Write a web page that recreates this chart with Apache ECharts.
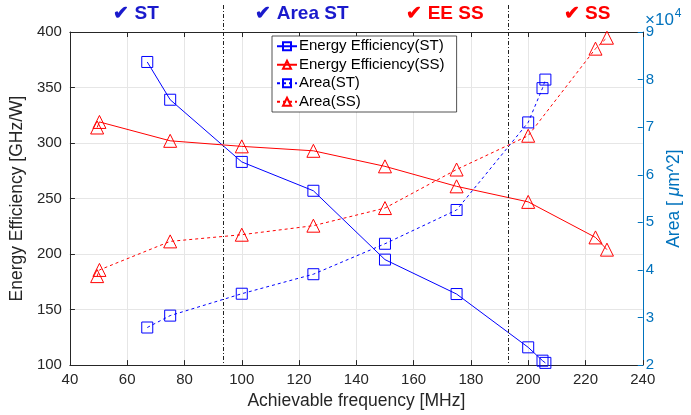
<!DOCTYPE html>
<html>
<head>
<meta charset="utf-8">
<script src="https://cdn.jsdelivr.net/npm/echarts@6/dist/echarts.min.js"></script>
<style>html,body{margin:0;padding:0;background:#fff;}#c{width:691px;height:415px;}</style>
</head>
<body>
<div id="c"></div>
<script>
// ---- data ----
var freqST = [67, 75, 100, 125, 150, 175, 200, 205, 206];
var eeST   = [373, 339, 283, 257, 195, 164, 116, 104, 102];
var areaST = [2.79, 3.04, 3.50, 3.91, 4.55, 5.26, 7.10, 7.82, 8.00]; // x10^4 um^2
var freqSS = [49.5, 50.3, 75, 100, 125, 150, 175, 200, 223.5, 227.5];
var eeSS   = [314, 319, 302, 297, 293, 279, 261, 247, 215, 204];
var areaSS = [3.87, 4.00, 4.60, 4.74, 4.93, 5.30, 6.11, 6.82, 8.65, 8.88]; // x10^4 um^2
var xTicks = {min: 40, max: 240, step: 20};
var eeTicks = {min: 100, max: 400, step: 50};
var areaTicks = {min: 2, max: 9, step: 1};
var regionLines = [93.6, 192.9];
var regionLabels = [
  {text: '\u2714 ST', color: '#1a1acc', x: 136},
  {text: '\u2714 Area ST', color: '#1a1acc', x: 302},
  {text: '\u2714 EE SS', color: '#ff0000', x: 445},
  {text: '\u2714 SS', color: '#ff0000', x: 587}
];
var names = ['Energy Efficiency(ST)', 'Energy Efficiency(SS)', 'Area(ST)', 'Area(SS)'];

function zip(a, b) { return a.map(function (v, i) { return [v, b[i]]; }); }

var FONT = '"Liberation Sans", Arial, Helvetica, sans-serif';
var AXC = '#0072BD';
var BLUE = '#0000ff', RED = '#ff0000';

var chart = echarts.init(document.getElementById('c'), null, {renderer: 'canvas'});

function mk(name, data, color, yIdx, symbol, size, dashed) {
  return {
    name: name, type: 'line', data: data, yAxisIndex: yIdx,
    symbol: symbol, symbolSize: size, showSymbol: true,
    lineStyle: {color: color, width: 1, type: dashed ? [3, 3] : 'solid'},
    itemStyle: {color: 'rgba(255,255,255,0)', borderColor: color, borderWidth: 1},
    emphasis: {disabled: true},
    animation: false, z: 3
  };
}

var option = {
  animation: false,
  textStyle: {fontFamily: FONT},
  grid: {left: 64, right: 44.3, top: 32, bottom: 46, containLabel: false},
  legend: {
    orient: 'vertical', left: 272, top: 36,
    data: names,
    backgroundColor: '#fff', borderColor: '#262626', borderWidth: 0.8,
    padding: [2, 12, 2, 4], itemGap: 2, itemWidth: 20, itemHeight: 10,
    textStyle: {fontFamily: FONT, fontSize: 15, color: '#000', lineHeight: 16.5, padding: [0, 0, 0, -3]},
    z: 10
  },
  xAxis: [{
    type: 'value', min: xTicks.min, max: xTicks.max, interval: xTicks.step, position: 'bottom',
    axisLine: {show: true, lineStyle: {color: '#262626', width: 1}},
    axisTick: {show: true, inside: true, length: 5, lineStyle: {color: '#262626'}},
    axisLabel: {fontSize: 15, color: '#262626', margin: 7, fontFamily: FONT},
    splitLine: {show: true, lineStyle: {color: '#e6e6e6', width: 1}},
    name: 'Achievable frequency [MHz]', nameLocation: 'middle', nameGap: 26,
    nameTextStyle: {fontSize: 17.5, color: '#262626', fontFamily: FONT}
  }, {
    type: 'value', min: xTicks.min, max: xTicks.max, interval: xTicks.step, position: 'top',
    axisLine: {show: true, lineStyle: {color: '#262626', width: 1}},
    axisTick: {show: true, inside: true, length: 5, lineStyle: {color: '#262626'}},
    axisLabel: {show: false}, splitLine: {show: false}
  }],
  yAxis: [{
    type: 'value', min: eeTicks.min, max: eeTicks.max, interval: eeTicks.step, position: 'left',
    axisLine: {show: true, lineStyle: {color: '#262626', width: 1}},
    axisTick: {show: true, inside: true, length: 5, lineStyle: {color: '#262626'}},
    axisLabel: {fontSize: 15, color: '#262626', margin: 8, fontFamily: FONT},
    splitLine: {show: true, lineStyle: {color: '#e6e6e6', width: 1}},
    name: 'Energy Efficiency [GHz/W]', nameLocation: 'middle', nameGap: 38,
    nameTextStyle: {fontSize: 17.5, color: '#262626', fontFamily: FONT}
  }, {
    type: 'value', min: areaTicks.min, max: areaTicks.max, interval: areaTicks.step, position: 'right',
    axisLine: {show: true, lineStyle: {color: AXC, width: 1}},
    axisTick: {show: true, inside: true, length: 5, lineStyle: {color: AXC}},
    axisLabel: {fontSize: 15, color: AXC, margin: 3, fontFamily: FONT},
    splitLine: {show: false},
    name: '{n|Area [ }{m|\u03bc}{n|m^2]}', nameLocation: 'middle', nameGap: 20, nameRotate: 90,
    nameTextStyle: {fontSize: 17.5, color: AXC, fontFamily: FONT,
      rich: {n: {fontSize: 17.5, color: AXC, fontFamily: FONT}, m: {fontSize: 17.5, color: AXC, fontStyle: 'italic', fontFamily: FONT}}}
  }],
  series: [
    mk(names[0], zip(freqST, eeST), BLUE, 0, 'rect', 11, false),
    mk(names[1], zip(freqSS, eeSS), RED, 0, 'triangle', 13, false),
    mk(names[2], zip(freqST, areaST), BLUE, 1, 'rect', 11, true),
    mk(names[3], zip(freqSS, areaSS), RED, 1, 'triangle', 13, true)
  ]
};
chart.setOption(option);

var g = [];
var bottomY = chart.convertToPixel({yAxisIndex: 0}, eeTicks.min);
regionLines.forEach(function (f) {
  var x = Math.round(chart.convertToPixel({xAxisIndex: 0}, f)) + 0.5;
  g.push({type: 'line', shape: {x1: x, y1: 5, x2: x, y2: bottomY},
    style: {stroke: '#222', lineWidth: 1, lineDash: [4, 2, 1, 2]}, z: 5, silent: true});
});
regionLabels.forEach(function (l) {
  g.push({type: 'text', x: l.x, y: 14, style: {text: l.text, fill: l.color,
    font: 'bold 19px ' + FONT, textAlign: 'center', textVerticalAlign: 'middle'}, z: 5, silent: true});
});
g.push({type: 'text', x: 645, y: 20, style: {text: '{a|\u00d710}{b|4}', fill: AXC, textVerticalAlign: 'middle',
  rich: {a: {fontSize: 17, fill: AXC, fontFamily: FONT}, b: {fontSize: 12, fill: AXC, fontFamily: FONT, verticalAlign: 'top', padding: [0, 0, 12, 1]}}}, z: 5, silent: true});
chart.setOption({graphic: g});
</script>
</body>
</html>
